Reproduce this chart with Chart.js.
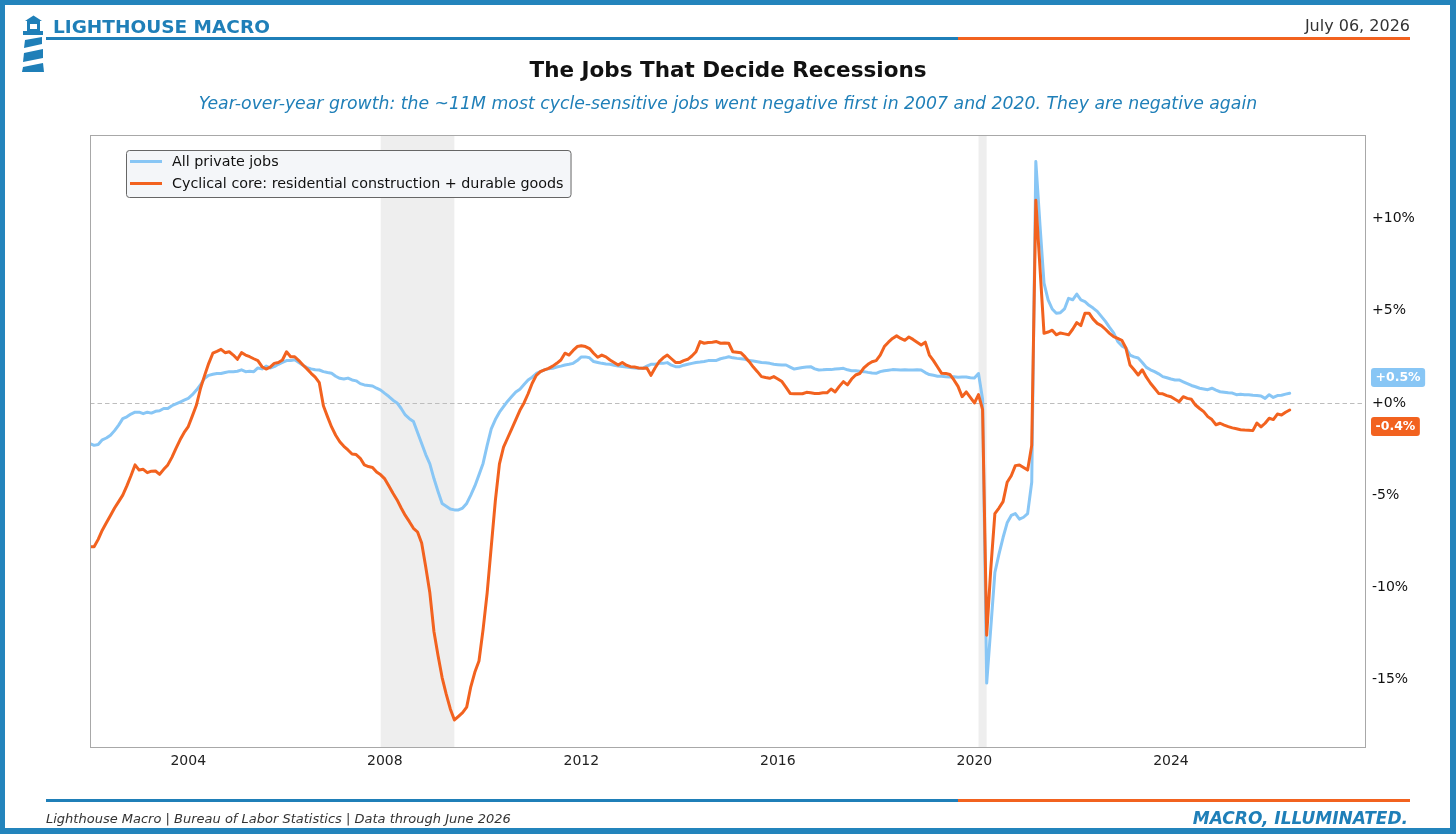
<!DOCTYPE html>
<html>
<head>
<meta charset="utf-8">
<title>The Jobs That Decide Recessions</title>
<script src="https://cdn.jsdelivr.net/npm/chart.js@4.4.1/dist/chart.umd.min.js"></script>
<style>
  body { margin: 0; background: #fff; }
  #page { position: relative; width: 1456px; height: 834px; overflow: hidden; font-family: "DejaVu Sans", sans-serif; }
  #frame { position: absolute; left: 0; top: 0; width: 1456px; height: 834px; box-sizing: border-box;
           border-style: solid; border-color: #2384bc; border-width: 5px 6px 6px 5px; pointer-events: none; }
  #chart { position: absolute; left: 0; top: 0; }
  .txt { position: absolute; white-space: nowrap; }
  .rule { position: absolute; height: 3px; }
  #brand { left: 53px; top: 18px; font-size: 18.5px; line-height: 18px; font-weight: bold; color: #1f7fb8; }
  #date { right: 46px; top: 18px; font-size: 16px; line-height: 16px; color: #333; }
  #title { left: 0; width: 1456px; text-align: center; top: 60px; font-size: 21.5px; line-height: 20px; font-weight: bold; color: #111; }
  #subtitle { left: 0; width: 1456px; text-align: center; top: 95px; font-size: 17.3px; line-height: 17px; font-style: italic; color: #1f7fb8; }
  #source { left: 46px; top: 812px; font-size: 13px; line-height: 13px; font-style: italic; color: #333; }
  #tagline { right: 48px; top: 809px; font-size: 17px; line-height: 18px; font-style: italic; font-weight: bold; color: #1f7fb8; }
</style>
</head>
<body>
<div id="page">
  <canvas id="chart" width="1456" height="834"></canvas>

  <svg class="txt" style="left:20px;top:14px" width="28" height="60" viewBox="20 14 28 60">
    <g fill="#1f7fb8">
      <polygon points="25,21 33.5,15.5 42,21"/>
      <rect x="27" y="21" width="13" height="10"/>
      <rect x="23" y="31" width="20" height="4"/>
      <polygon points="25,40 42,37 42,44 24,48"/>
      <polygon points="24,53 43,49 43,58 23,62"/>
      <polygon points="23,67 43,63 44,72 22,72"/>
    </g>
    <rect x="30" y="24" width="7" height="5" fill="#fff"/>
  </svg>
  <div class="txt" id="brand">LIGHTHOUSE MACRO</div>
  <div class="txt" id="date">July 06, 2026</div>
  <div class="rule" style="left:46px;top:37px;width:912px;background:#1f7fb8"></div>
  <div class="rule" style="left:958px;top:37px;width:452px;background:#f2621f"></div>

  <div class="txt" id="title">The Jobs That Decide Recessions</div>
  <div class="txt" id="subtitle">Year-over-year growth: the ~11M most cycle-sensitive jobs went negative first in 2007 and 2020. They are negative again</div>

  <div class="rule" style="left:46px;top:799px;width:912px;background:#1f7fb8"></div>
  <div class="rule" style="left:958px;top:799px;width:452px;background:#f2621f"></div>
  <div class="txt" id="source">Lighthouse Macro | Bureau of Labor Statistics | Data through June 2026</div>
  <div class="txt" id="tagline">MACRO, ILLUMINATED.</div>

  <div id="frame"></div>
</div>

<script>
// monthly, Jan 2002 .. Jun 2026, YoY % change
const startYear = 2002
const seriesNames = ["All private jobs", "Cyclical core: residential construction + durable goods"]
const seriesColors = ["#88c6f5", "#f2621f"]
const xTicks = [2004, 2008, 2012, 2016, 2020, 2024]
const yTicks = [-15, -10, -5, 0, 5, 10]
// NBER recessions: Dec 2007 - Jun 2009, Feb 2020 - Apr 2020
const recessions = [[2007 + 11 / 12, 2009 + 5 / 12], [2020 + 1 / 12, 2020 + 3 / 12]]

const allPrivate = [
  -2.2, -2.3, -2.25, -2.0, -1.9, -1.75, -1.5, -1.2, -0.85, -0.75, -0.6, -0.5,   // 2002
  -0.5, -0.58, -0.5, -0.55, -0.45, -0.42, -0.3, -0.3, -0.15, -0.05, 0.05, 0.15, // 2003
  0.25, 0.45, 0.7, 1.0, 1.34, 1.5, 1.56, 1.6, 1.6, 1.65, 1.7, 1.7,               // 2004
  1.72, 1.8, 1.7, 1.72, 1.7, 1.9, 1.85, 2.0, 1.9, 1.97, 2.1, 2.2,                // 2005
  2.3, 2.3, 2.35, 2.2, 2.05, 1.92, 1.85, 1.8, 1.79, 1.7, 1.65, 1.61,             // 2006
  1.45, 1.34, 1.3, 1.35, 1.25, 1.2, 1.05, 0.98, 0.95, 0.92, 0.8, 0.7,            // 2007
  0.52, 0.35, 0.15, 0.0, -0.3, -0.65, -0.85, -1.0, -1.6, -2.2, -2.8, -3.3,       // 2008
  -4.1, -4.8, -5.45, -5.6, -5.75, -5.8, -5.8, -5.7, -5.45, -5.0, -4.5, -3.9,     // 2009
  -3.28, -2.3, -1.4, -0.9, -0.5, -0.2, 0.1, 0.35, 0.6, 0.75, 1.0, 1.25,          // 2010
  1.4, 1.6, 1.7, 1.8, 1.85, 1.88, 1.95, 2.0, 2.06, 2.1, 2.15, 2.3,               // 2011
  2.5, 2.5, 2.45, 2.25, 2.2, 2.15, 2.12, 2.1, 2.05, 2.0, 1.98, 1.95,             // 2012
  1.92, 1.9, 1.88, 1.88, 2.0, 2.1, 2.1, 2.15, 2.15, 2.19, 2.05, 1.97,            // 2013
  1.97, 2.05, 2.1, 2.15, 2.2, 2.22, 2.25, 2.3, 2.3, 2.31, 2.4, 2.45,             // 2014
  2.51, 2.45, 2.42, 2.4, 2.37, 2.3, 2.28, 2.24, 2.2, 2.18, 2.15, 2.1,            // 2015
  2.08, 2.06, 2.06, 1.95, 1.84, 1.88, 1.92, 1.95, 1.97, 1.85, 1.79, 1.8,         // 2016
  1.82, 1.81, 1.84, 1.86, 1.88, 1.8, 1.75, 1.75, 1.72, 1.7, 1.66, 1.63,          // 2017
  1.61, 1.7, 1.75, 1.78, 1.81, 1.8, 1.79, 1.8, 1.79, 1.79, 1.8, 1.79,            // 2018
  1.65, 1.54, 1.5, 1.45, 1.45, 1.42, 1.41, 1.42, 1.4, 1.41, 1.41, 1.37,          // 2019
  1.35, 1.6, 0.2, -15.2, -12.2, -9.2, -8.2, -7.3, -6.5, -6.1, -6.0, -6.3,        // 2020
  -6.2, -6.0, -4.3, 13.1, 9.7, 6.5, 5.6, 5.1, 4.87, 4.9, 5.1, 5.68,              // 2021
  5.6, 5.91, 5.59, 5.5, 5.3, 5.15, 4.97, 4.7, 4.43, 4.1, 3.8, 3.34,              // 2022
  3.1, 2.98, 2.6, 2.5, 2.44, 2.2, 1.93, 1.8, 1.7, 1.58, 1.43, 1.37,              // 2023
  1.3, 1.25, 1.25, 1.15, 1.05, 0.95, 0.88, 0.8, 0.76, 0.72, 0.8, 0.7,            // 2024
  0.61, 0.58, 0.55, 0.54, 0.45, 0.47, 0.45, 0.45, 0.42, 0.4, 0.38, 0.25,         // 2025
  0.45, 0.3, 0.4, 0.42, 0.48, 0.53                                               // 2026
]

const cyclicalCore = [
  -7.8, -7.8, -7.4, -6.9, -6.5, -6.1, -5.7, -5.35, -5.0, -4.5, -3.95, -3.36,     // 2002
  -3.64, -3.6, -3.78, -3.7, -3.69, -3.87, -3.6, -3.36, -2.95, -2.46, -2.0, -1.6, // 2003
  -1.28, -0.7, -0.11, 0.8, 1.5, 2.15, 2.7, 2.8, 2.91, 2.73, 2.78, 2.6,           // 2004
  2.37, 2.73, 2.6, 2.51, 2.4, 2.3, 1.97, 1.84, 1.95, 2.15, 2.2, 2.33,            // 2005
  2.78, 2.51, 2.51, 2.3, 2.06, 1.85, 1.61, 1.4, 1.1, -0.15, -0.74, -1.3,         // 2006
  -1.75, -2.1, -2.35, -2.55, -2.77, -2.8, -3.0, -3.36, -3.45, -3.5, -3.75, -3.9, // 2007
  -4.12, -4.5, -4.9, -5.26, -5.7, -6.1, -6.44, -6.8, -7.0, -7.6, -8.9, -10.3,    // 2008
  -12.4, -13.7, -14.9, -15.8, -16.6, -17.2, -17.0, -16.8, -16.5, -15.4, -14.6, -14.0, // 2009
  -12.3, -10.3, -7.8, -5.3, -3.3, -2.4, -1.9, -1.4, -0.9, -0.4, 0.0, 0.5,        // 2010
  1.07, 1.5, 1.7, 1.8, 1.88, 2.0, 2.15, 2.33, 2.7, 2.6, 2.85, 3.06,              // 2011
  3.1, 3.06, 2.95, 2.7, 2.48, 2.6, 2.5, 2.33, 2.2, 2.06, 2.2, 2.05,              // 2012
  1.97, 1.95, 1.9, 1.88, 1.9, 1.5, 1.9, 2.24, 2.45, 2.6, 2.4, 2.2,               // 2013
  2.19, 2.3, 2.37, 2.55, 2.78, 3.33, 3.24, 3.28, 3.3, 3.33, 3.24, 3.26,          // 2014
  3.24, 2.78, 2.75, 2.72, 2.5, 2.24, 1.95, 1.7, 1.43, 1.38, 1.34, 1.43,          // 2015
  1.3, 1.16, 0.85, 0.52, 0.5, 0.5, 0.5, 0.58, 0.55, 0.52, 0.52, 0.55,            // 2016
  0.55, 0.76, 0.6, 0.9, 1.16, 0.98, 1.3, 1.52, 1.6, 1.9, 2.1, 2.24,              // 2017
  2.3, 2.6, 3.06, 3.3, 3.5, 3.64, 3.5, 3.4, 3.58, 3.45, 3.3, 3.15,               // 2018
  3.3, 2.6, 2.3, 1.95, 1.61, 1.6, 1.55, 1.25, 0.9, 0.34, 0.6, 0.3,               // 2019
  0.0, 0.45, -0.36, -12.6, -9.0, -6.0, -5.7, -5.35, -4.3, -3.95, -3.4, -3.36,    // 2020
  -3.5, -3.64, -2.3, 11.0, 7.4, 3.78, 3.85, 3.95, 3.7, 3.8, 3.75, 3.7,           // 2021
  4.0, 4.36, 4.2, 4.87, 4.87, 4.55, 4.32, 4.2, 4.0, 3.78, 3.6, 3.5,              // 2022
  3.4, 2.98, 2.06, 1.8, 1.52, 1.8, 1.4, 1.07, 0.8, 0.52, 0.5, 0.4,               // 2023
  0.34, 0.2, 0.07, 0.34, 0.25, 0.2, -0.11, -0.3, -0.47, -0.74, -0.9, -1.18,      // 2024
  -1.1, -1.2, -1.28, -1.35, -1.4, -1.45, -1.47, -1.48, -1.5, -1.09, -1.3, -1.1,  // 2025
  -0.83, -0.9, -0.6, -0.65, -0.5, -0.38                                          // 2026
]

const dates = allPrivate.map((_, i) => startYear + i / 12)
const FONT = "DejaVu Sans"

function pctLabel(v) {
  return (v >= 0 ? "+" : "") + v + "%"
}

// recession shading, dashed zero line, frame, legend box and last-value tags
const decor = {
  id: "decor",
  beforeDatasetsDraw(chart) {
    const { ctx, chartArea: ca, scales: { x, y } } = chart
    ctx.save()
    ctx.fillStyle = "rgba(0,0,0,0.065)"
    recessions.forEach(([a, b]) => {
      const x0 = x.getPixelForValue(a)
      const x1 = x.getPixelForValue(b)
      ctx.fillRect(x0, ca.top, x1 - x0, ca.bottom - ca.top)
    })
    const zy = Math.round(y.getPixelForValue(0)) + 0.5
    ctx.strokeStyle = "#bdbdbd"
    ctx.lineWidth = 1
    ctx.setLineDash([4.5, 3])
    ctx.beginPath()
    ctx.moveTo(ca.left, zy)
    ctx.lineTo(ca.right, zy)
    ctx.stroke()
    ctx.restore()
  },
  afterDatasetsDraw(chart) {
    const { ctx, chartArea: ca, scales: { y } } = chart
    ctx.save()
    ctx.strokeStyle = "#a8a8a8"
    ctx.lineWidth = 1
    ctx.strokeRect(ca.left + 0.5, ca.top + 0.5, ca.right - ca.left - 1, ca.bottom - ca.top - 1)

    // legend
    ctx.font = `14.3px "${FONT}"`
    const sets = chart.data.datasets
    const textW = Math.max(...sets.map(d => ctx.measureText(d.label).width))
    const bx = ca.left + 36, by = ca.top + 15
    const bw = 46 + textW + 7, bh = 47
    ctx.beginPath()
    ctx.roundRect(bx + 0.5, by + 0.5, bw, bh, 3)
    ctx.fillStyle = "rgba(243,246,249,0.95)"
    ctx.fill()
    ctx.strokeStyle = "#666"
    ctx.stroke()
    sets.forEach((d, i) => {
      const ry = by + 11.5 + i * 22
      ctx.strokeStyle = d.borderColor
      ctx.lineWidth = 3
      ctx.beginPath()
      ctx.moveTo(bx + 4, ry)
      ctx.lineTo(bx + 36, ry)
      ctx.stroke()
      ctx.fillStyle = "#111"
      ctx.textBaseline = "middle"
      ctx.fillText(d.label, bx + 46, ry + 0.5)
    })

    // last-value tags on the right axis
    const zero = y.getPixelForValue(0)
    ctx.font = `bold 12.5px "${FONT}"`
    ctx.textAlign = "center"
    ctx.textBaseline = "middle"
    sets.forEach(d => {
      const v = d.data[d.data.length - 1].y
      let py = y.getPixelForValue(v)
      if (Math.abs(py - zero) < 24) py = v >= 0 ? zero - 25.5 : zero + 23.5
      const label = pctLabel(v.toFixed(1))
      const w = ctx.measureText(label).width + 9
      const lx = ca.right + 5
      ctx.beginPath()
      ctx.roundRect(lx, py - 9.5, w, 19, 3)
      ctx.fillStyle = d.borderColor
      ctx.fill()
      ctx.fillStyle = "#fff"
      ctx.fillText(label, lx + w / 2, py + 0.5)
    })
    ctx.restore()
  }
}

const ctx = document.getElementById("chart").getContext("2d")
new Chart(ctx, {
  type: "line",
  data: {
    datasets: [
      {
        label: seriesNames[0],
        data: allPrivate.map((v, i) => ({ x: dates[i], y: v })),
        borderColor: seriesColors[0],
        borderWidth: 3,
        order: 2
      },
      {
        label: seriesNames[1],
        data: cyclicalCore.map((v, i) => ({ x: dates[i], y: v })),
        borderColor: seriesColors[1],
        borderWidth: 3,
        order: 1
      }
    ]
  },
  options: {
    responsive: false,
    animation: false,
    devicePixelRatio: 1,
    layout: { padding: { left: 90, top: 135, right: 0, bottom: 0 } },
    elements: {
      point: { radius: 0 },
      line: { tension: 0, borderJoinStyle: "round", borderCapStyle: "round" }
    },
    scales: {
      x: {
        type: "linear",
        min: 2002,
        max: 2027.97,
        grid: { display: false, drawTicks: false },
        border: { display: false },
        afterBuildTicks: s => { s.ticks = xTicks.map(v => ({ value: v })) },
        afterFit: s => { s.height = 86 },
        ticks: {
          padding: 5,
          color: "#222",
          maxRotation: 0,
          autoSkip: false,
          font: { family: FONT, size: 14 },
          callback: v => String(v)
        }
      },
      y: {
        position: "right",
        min: -18.72,
        max: 14.54,
        grid: { display: false, drawTicks: false },
        border: { display: false },
        afterBuildTicks: s => { s.ticks = yTicks.map(v => ({ value: v })) },
        afterFit: s => { s.width = 90 },
        ticks: {
          padding: 6,
          color: "#111",
          font: { family: FONT, size: 14 },
          callback: v => pctLabel(v)
        }
      }
    },
    plugins: {
      legend: { display: false },
      tooltip: { enabled: false }
    }
  },
  plugins: [decor]
})
</script>
</body>
</html>
